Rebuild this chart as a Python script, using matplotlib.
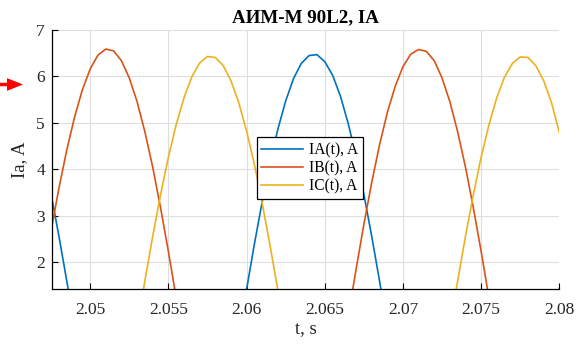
import numpy as np
import matplotlib
matplotlib.use("Agg")
import matplotlib.pyplot as plt
from matplotlib.patches import FancyArrow

# Sampling of the phase currents
t_start = 2.0475
t_step = 0.0005

ia = [3.47, 2.57, 1.61, 0.61, -0.41, -1.41, -2.39, -3.30, -4.13, -4.86,
      -5.47, -5.95, -6.28, -6.45, -6.47, -6.32, -6.03, -5.58, -4.99, -4.29,
      -3.47, -2.57, -1.61, -0.61, 0.41, 1.41, 2.39, 3.30, 4.13, 4.86,
      5.47, 5.95, 6.28, 6.45, 6.47, 6.32, 6.03, 5.58, 4.99, 4.29,
      3.47, 2.57, 1.61, 0.61, -0.41, -1.41, -2.39, -3.30, -4.13, -4.86,
      -5.47, -5.95, -6.28, -6.45, -6.47, -6.32, -6.03, -5.58, -4.99, -4.29,
      -3.47, -2.57, -1.61, -0.61, 0.41, 1.41, 2.39]

ib = [2.68, 3.59, 4.41, 5.12, 5.71, 6.16, 6.46, 6.59, 6.55, 6.34,
      5.97, 5.46, 4.81, 4.05, 3.18, 2.24, 1.24, 0.21, -0.83, -1.84,
      -2.81, -3.71, -4.52, -5.22, -5.78, -6.21, -6.48, -6.60, -6.55, -6.34,
      -5.97, -5.46, -4.81, -4.05, -3.18, -2.24, -1.24, -0.21, 0.83, 1.84,
      2.81, 3.71, 4.52, 5.22, 5.78, 6.21, 6.48, 6.58, 6.54, 6.34,
      5.97, 5.46, 4.81, 4.05, 3.18, 2.24, 1.24, 0.21, -0.83, -1.84,
      -2.81, -3.71, -4.52, -5.22, -5.78, -6.21, -6.48]

ic = [-6.43, -6.41, -6.24, -5.91, -5.44, -4.83, -4.11, -3.28, -2.37, -1.41,
      -0.40, 0.61, 1.60, 2.56, 3.45, 4.26, 4.96, 5.54, 5.99, 6.29,
      6.43, 6.41, 6.24, 5.91, 5.44, 4.83, 4.11, 3.28, 2.37, 1.41,
      0.40, -0.61, -1.60, -2.56, -3.45, -4.26, -4.96, -5.54, -5.99, -6.29,
      -6.43, -6.41, -6.24, -5.91, -5.44, -4.83, -4.11, -3.28, -2.37, -1.41,
      -0.40, 0.61, 1.60, 2.56, 3.45, 4.26, 4.96, 5.54, 5.99, 6.28,
      6.42, 6.41, 6.23, 5.91, 5.44, 4.80, 4.08]

series_labels = ["IA(t), A", "IB(t), A", "IC(t), A"]
series_colors = ["#0072BD", "#D95319", "#EDB120"]

x_ticks = [2.05, 2.055, 2.06, 2.065, 2.07, 2.075, 2.08]
x_tick_labels = ["2.05", "2.055", "2.06", "2.065", "2.07", "2.075", "2.08"]
y_ticks = [2, 3, 4, 5, 6, 7]

t = t_start + t_step * np.arange(len(ia))

plt.rcParams["font.family"] = ["Liberation Serif", "DejaVu Serif"]

W, H = 583, 345
fig = plt.figure(figsize=(W / 100, H / 100), dpi=100)
L, R, T, B = 52.3, 559.3, 30.0, 289.3
ax = fig.add_axes([L / W, 1 - B / H, (R - L) / W, (B - T) / H])

for vals, lab, col in zip([ia, ib, ic], series_labels, series_colors):
    ax.plot(t, vals, color=col, lw=1.2, label=lab)

ax.set_xlim(2.04758, 2.08)
ax.set_ylim(1.42, 7)
ax.set_xticks(x_ticks)
ax.set_xticklabels(x_tick_labels)
ax.set_yticks(y_ticks)

ax.grid(True, color="#dedede", lw=0.8)
ax.set_axisbelow(True)
for s in ["top", "right"]:
    ax.spines[s].set_visible(False)
for s in ["left", "bottom"]:
    ax.spines[s].set_color("black")
    ax.spines[s].set_linewidth(0.9)

ax.tick_params(axis="both", direction="in", length=4, width=0.8,
               colors="black", labelcolor="#262626", labelsize=12.5)
ax.tick_params(axis="x", pad=9.0)
ax.tick_params(axis="y", pad=5.3)

ax.set_title("АИМ-М 90L2, IA", fontsize=13.7, fontweight="bold", pad=5.4)
ax.set_xlabel("t, s", fontsize=13.5, color="#262626", labelpad=2)
ax.set_ylabel("Ia, A", fontsize=13.5, color="#262626", labelpad=6)

leg = ax.legend(loc="upper left", bbox_to_anchor=(0.403, 0.586),
                borderaxespad=0, fontsize=11.2, frameon=True, fancybox=False,
                framealpha=1, edgecolor="black", handlelength=2.7,
                handletextpad=0.35, borderpad=0.3, labelspacing=0.15)
leg.get_frame().set_linewidth(0.9)

arrow = FancyArrow(0.0, (H - 84.5) / 100, 0.23, 0.0, width=0.035,
                   head_width=0.127, head_length=0.16,
                   length_includes_head=True, color="#ff0000", lw=0,
                   transform=fig.dpi_scale_trans)
fig.add_artist(arrow)

fig.savefig("out.png", dpi=100)
